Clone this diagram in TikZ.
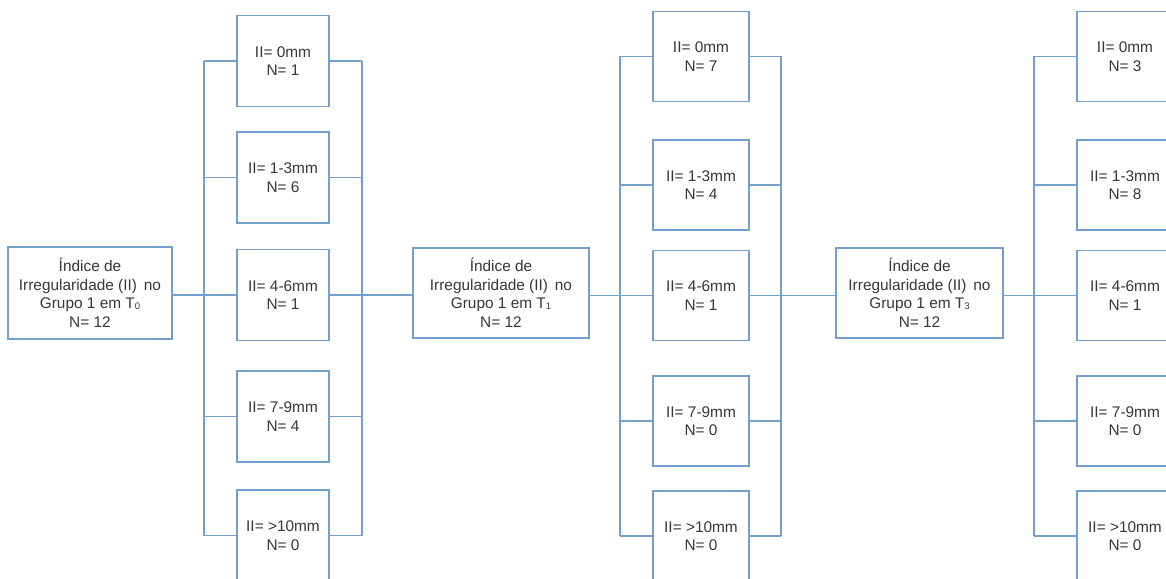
\documentclass[tikz,border=0pt]{standalone}
\usepackage{fontspec}
\setmainfont{Liberation Sans}
\definecolor{ln}{RGB}{115,160,205}
\definecolor{tx}{RGB}{55,55,55}
\newcommand{\tsub}[1]{\raisebox{-0.8pt}{\fontsize{9.5}{9.5}\selectfont #1}}
\begin{document}
\begin{tikzpicture}[x=1pt,y=-1pt,
  box/.style={draw=ln, line width=1.3pt, fill=white, inner sep=0pt, align=center, text=tx,
    font=\fontsize{15.4}{18.6}\selectfont},
  mainbox/.style={box, minimum height=92pt},
  gabox/.style={box, minimum width=92pt, minimum height=91pt},
  gbbox/.style={box, minimum width=96pt, minimum height=90pt},
  wire/.style={draw=ln, line width=1.3pt}]
\useasboundingbox (0,0) rectangle (1166,578);
\clip (0,0) rectangle (1166,578);
\fill[white] (0,0) rectangle (1166,578);

% main boxes
\node[mainbox, minimum width=164pt] (m1) at (90,293) {Índice de\\Irregularidade (II)\, no\\Grupo 1 em T\tsub{0}\\N= 12};
\node[mainbox, minimum width=176pt, minimum height=90pt] (m2) at (501,293) {Índice de\\Irregularidade (II)\, no\\Grupo 1 em T\tsub{1}\\N= 12};
\node[mainbox, minimum width=167pt, minimum height=90pt] (m3) at (919.5,293) {Índice de\\Irregularidade (II)\, no\\Grupo 1 em T\tsub{3}\\N= 12};

% group 1
\node[gabox] (b11) at (283,61) {II= 0mm\\N= 1};
\node[gabox] (b12) at (283,177.5) {II= 1-3mm\\N= 6};
\node[gabox] (b13) at (283,295) {II= 4-6mm\\N= 1};
\node[gabox] (b14) at (283,416.5) {II= 7-9mm\\N= 4};
\node[gabox] (b15) at (283,535.5) {II= >10mm\\N= 0};

% group 2
\node[gbbox] (b21) at (701,56.5) {II= 0mm\\N= 7};
\node[gbbox] (b22) at (701,185) {II= 1-3mm\\N= 4};
\node[gbbox] (b23) at (701,295.5) {II= 4-6mm\\N= 1};
\node[gbbox] (b24) at (701,421) {II= 7-9mm\\N= 0};
\node[gbbox] (b25) at (701,536) {II= >10mm\\N= 0};

% group 3
\node[gbbox] (b31) at (1125,56.5) {II= 0mm\\N= 3};
\node[gbbox] (b32) at (1125,185) {II= 1-3mm\\N= 8};
\node[gbbox] (b33) at (1125,295.5) {II= 4-6mm\\N= 1};
\node[gbbox] (b34) at (1125,421) {II= 7-9mm\\N= 0};
\node[gbbox] (b35) at (1125,536) {II= >10mm\\N= 0};

% bus positions
\coordinate (L1) at (204,0);
\coordinate (R1) at (362,0);
\coordinate (L2) at (620,0);
\coordinate (R2) at (781,0);
\coordinate (L3) at (1034,0);

% group 1 wiring
\draw[wire] (b11.west -| L1) -- (b15.west -| L1);
\draw[wire] (b11.east -| R1) -- (b15.east -| R1);
\foreach \i in {1,...,5}{
  \draw[wire] (b1\i.west) -- (b1\i.west -| L1);
  \draw[wire] (b1\i.east) -- (b1\i.east -| R1);
}
\draw[wire] (b13.west -| m1.east) -- (b13.west -| L1);
\draw[wire] (b13.east -| R1) -- (b13.east -| m2.west);

% group 2 wiring
\draw[wire] (b21.west -| L2) -- (b25.west -| L2);
\draw[wire] (b21.east -| R2) -- (b25.east -| R2);
\foreach \i in {1,...,5}{
  \draw[wire] (b2\i.west) -- (b2\i.west -| L2);
  \draw[wire] (b2\i.east) -- (b2\i.east -| R2);
}
\draw[wire] (b23.west -| m2.east) -- (b23.west -| L2);
\draw[wire] (b23.east -| R2) -- (b23.east -| m3.west);

% group 3 wiring
\draw[wire] (b31.west -| L3) -- (b35.west -| L3);
\foreach \i in {1,...,5}{
  \draw[wire] (b3\i.west) -- (b3\i.west -| L3);
}
\draw[wire] (b33.west -| m3.east) -- (b33.west -| L3);
\end{tikzpicture}
\end{document}
